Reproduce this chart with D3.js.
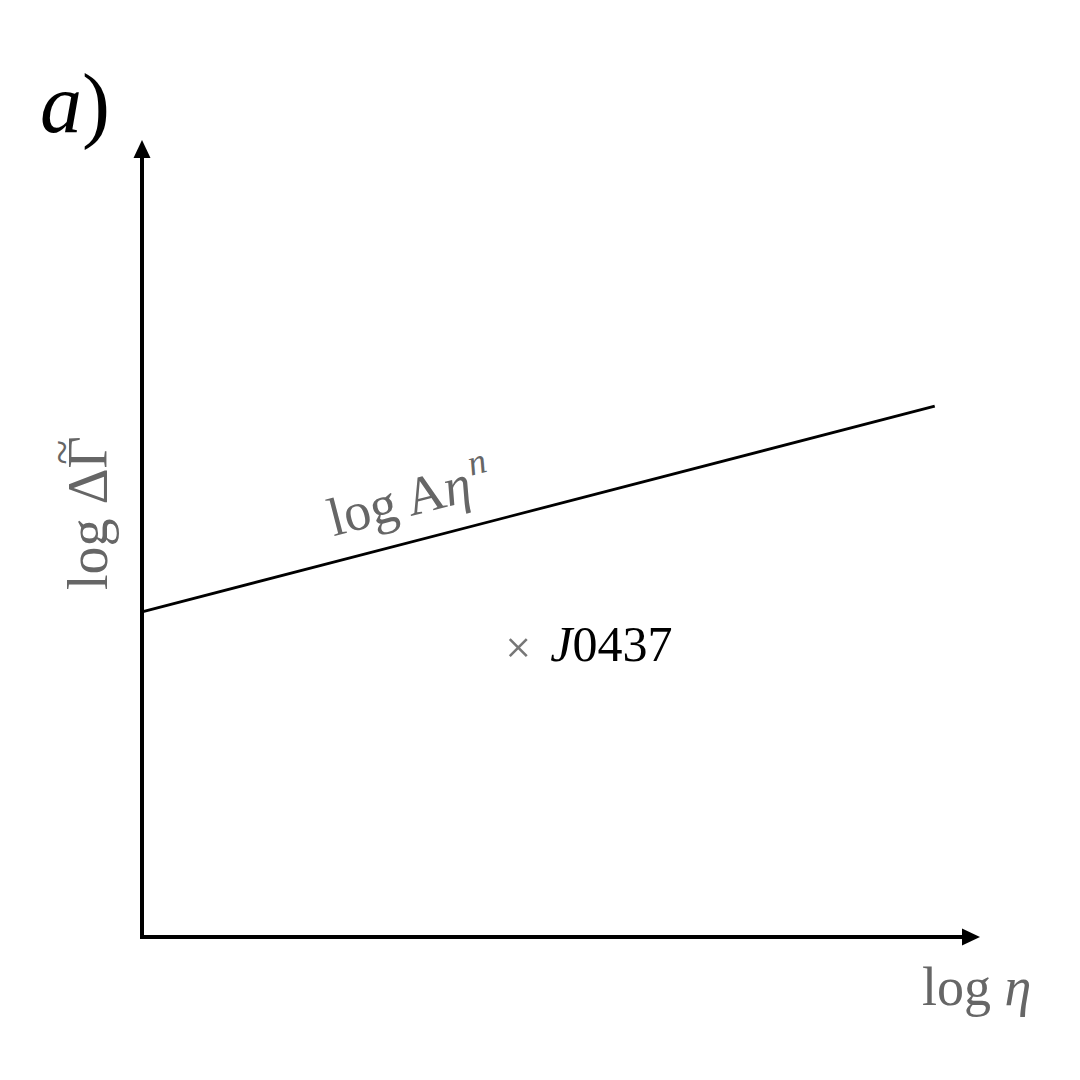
<!DOCTYPE html>
<html>
<head>
<meta charset="utf-8">
<script src="https://cdn.jsdelivr.net/npm/d3@7"></script>
<style>
  body { margin: 0; background: #fff; }
  text { font-family: "Liberation Serif", "Times New Roman", serif; }
</style>
</head>
<body>
<div id="chart"></div>
<script>
// schematic values (arbitrary units)
let fitLineX = [0, 9.46];
let fitLineY = [4.08, 6.66];
let pointX = [4.49];
let pointY = [3.63];
let pointNames = ['J0437'];

let chart_width = 1080;
let chart_height = 1080;

let svg = d3.select('#chart')
    .append('svg')
    .attr('width', chart_width)
    .attr('height', chart_height);

// scales
let xScale = d3.scaleLinear()
    .domain([0, 10])
    .range([142, 980]);

let yScale = d3.scaleLinear()
    .domain([0, 10])
    .range([937, 140]);

// axes as plain arrows
let ox = xScale(0), oy = yScale(0);
let topY = yScale(10), rightX = xScale(10);

svg.append('path')
    .attr('d', 'M' + ox + ',' + (oy + 2) + ' L' + ox + ',' + (topY + 14)
        + ' M' + (ox - 2) + ',' + oy + ' L' + (rightX - 14) + ',' + oy)
    .attr('fill', 'none')
    .attr('stroke', '#000')
    .attr('stroke-width', 4);

// arrow heads
svg.append('path')
    .attr('d', 'M' + ox + ',' + topY + ' L' + (ox - 8.5) + ',' + (topY + 18)
        + ' L' + (ox + 8.5) + ',' + (topY + 18) + ' Z')
    .attr('fill', '#000');
svg.append('path')
    .attr('d', 'M' + rightX + ',' + oy + ' L' + (rightX - 18) + ',' + (oy - 8.5)
        + ' L' + (rightX - 18) + ',' + (oy + 8.5) + ' Z')
    .attr('fill', '#000');

// fit line
let lineData = fitLineX.map((x, i) => [x, fitLineY[i]]);
svg.append('path')
    .datum(lineData)
    .attr('d', d3.line()
        .x(d => xScale(d[0]))
        .y(d => yScale(d[1])))
    .attr('fill', 'none')
    .attr('stroke', '#000')
    .attr('stroke-width', 2.8);

// label along the line
let x0 = xScale(fitLineX[0]), y0 = yScale(fitLineY[0]);
let x1 = xScale(fitLineX[1]), y1 = yScale(fitLineY[1]);
let angle = Math.atan2(y1 - y0, x1 - x0) * 180 / Math.PI;
let lx = xScale(2.36);
let ly = y0 + (lx - x0) * (y1 - y0) / (x1 - x0);
let lineLabel = svg.append('text')
    .attr('transform', 'translate(' + lx + ',' + ly + ') rotate(' + angle + ') translate(0,-25)')
    .attr('fill', '#666')
    .attr('font-size', 54);
lineLabel.append('tspan').text('log A');
lineLabel.append('tspan').attr('font-style', 'italic').text('η');
lineLabel.append('tspan').attr('font-style', 'italic')
    .attr('font-size', 36).attr('dx', 3).attr('dy', -24).text('n');

// data point
let pts = pointX.map((x, i) => ({ x: x, y: pointY[i], name: pointNames[i] }));
svg.selectAll('.pt')
    .data(pts)
    .enter()
    .append('path')
    .attr('class', 'pt')
    .attr('transform', d => 'translate(' + xScale(d.x) + ',' + yScale(d.y) + ')')
    .attr('d', d3.symbol().type(d3.symbolX).size(190))
    .attr('fill', 'none')
    .attr('stroke', '#777')
    .attr('stroke-width', 2.6);

let ptLabel = svg.selectAll('.pt-label')
    .data(pts)
    .enter()
    .append('text')
    .attr('class', 'pt-label')
    .attr('x', d => xScale(d.x) + 32)
    .attr('y', d => yScale(d.y) + 13)
    .attr('font-size', 50)
    .attr('fill', '#000');
ptLabel.append('tspan').attr('font-style', 'italic').text(d => d.name.slice(0, 1));
ptLabel.append('tspan').text(d => d.name.slice(1));

// axis titles
let xTitle = svg.append('text')
    .attr('x', 922)
    .attr('y', 1005)
    .attr('font-size', 54)
    .attr('fill', '#666');
xTitle.append('tspan').text('log ');
xTitle.append('tspan').attr('font-style', 'italic').text('η');

let yTitle = svg.append('g')
    .attr('transform', 'translate(107,590) rotate(-90)');
let yText = yTitle.append('text')
    .attr('x', 0)
    .attr('y', 0)
    .attr('font-size', 56)
    .attr('fill', '#666')
    .text('log ΔΓ');
// tilde over the Gamma
let full = yText.node().getComputedTextLength();
let gW = yText.node().getSubStringLength(5, 1);
yTitle.append('text')
    .attr('x', full - gW / 2)
    .attr('y', -30)
    .attr('text-anchor', 'middle')
    .attr('font-size', 46)
    .attr('fill', '#666')
    .text('~');

// panel tag
let tag = svg.append('text')
    .attr('x', 40)
    .attr('y', 132)
    .attr('font-size', 84)
    .attr('fill', '#000');
tag.append('tspan').attr('font-style', 'italic').text('a');
tag.append('tspan').text(')');
</script>
</body>
</html>
